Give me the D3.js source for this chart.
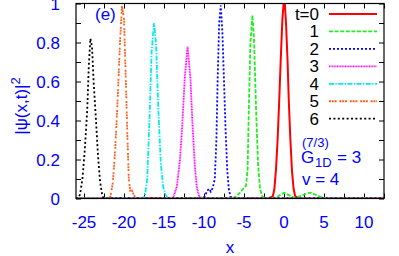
<!DOCTYPE html>
<html>
<head>
<meta charset="utf-8">
<script src="https://cdn.jsdelivr.net/npm/d3@7"></script>
<style>
  body { margin: 0; background: #fff; }
  svg { display: block; }
  text { font-family: "Liberation Sans", Arial, sans-serif; }
</style>
</head>
<body>
<svg width="399" height="256"></svg>
<script>
// values: [x, |psi|^2]
var t0 = [[-26,0],[-2,0],[-1.4,0.01],[-1.2,0.05],[-1.0,0.15],[-0.8,0.3],[-0.6,0.5],[-0.4,0.72],[-0.2,0.92],[-0.05,1.0],[0.1,1.0],[0.25,0.9],[0.45,0.7],[0.6,0.5],[0.8,0.3],[1.0,0.14],[1.2,0.05],[1.4,0.01],[2,0],[12.5,0]];
var t1 = [[-26,0],[-6.6,0],[-6.0,0.01],[-5.5,0.03],[-5.1,0.05],[-4.75,0.065],[-4.55,0.15],[-4.4,0.45],[-4.2,0.8],[-3.95,0.94],[-3.75,0.82],[-3.5,0.47],[-3.25,0.18],[-3.0,0.05],[-2.7,0.01],[-2.2,0],[-1.0,0.005],[-0.4,0.02],[0,0.03],[0.5,0.02],[1.2,0.005],[2.0,0.012],[2.8,0.025],[3.3,0.03],[3.9,0.02],[4.6,0.008],[5.5,0],[12.5,0]];
var t2 = [[-26,0],[-10.2,0],[-9.9,0.01],[-9.6,0.04],[-9.35,0.05],[-9.15,0.035],[-8.9,0.055],[-8.65,0.1],[-8.45,0.3],[-8.3,0.6],[-8.1,0.9],[-7.9,0.99],[-7.7,0.85],[-7.5,0.6],[-7.3,0.35],[-7.1,0.15],[-6.9,0.05],[-6.7,0.01],[-6.4,0],[12.5,0]];
var t3 = [[-26,0],[-14.2,0],[-13.8,0.01],[-13.4,0.06],[-13.0,0.2],[-12.7,0.39],[-12.4,0.62],[-12.05,0.78],[-11.7,0.62],[-11.45,0.39],[-11.15,0.17],[-10.9,0.06],[-10.6,0.01],[-10.2,0],[12.5,0]];
var t4 = [[-26,0],[-17.8,0],[-17.4,0.01],[-17.1,0.1],[-16.8,0.42],[-16.55,0.75],[-16.25,0.9],[-16.0,0.8],[-15.7,0.45],[-15.4,0.18],[-15.1,0.06],[-14.8,0.02],[-14.5,0],[12.5,0]];
var t5 = [[-26,0],[-22,0],[-21.7,0.01],[-21.4,0.08],[-21.1,0.25],[-20.8,0.5],[-20.5,0.8],[-20.25,0.99],[-20.0,0.92],[-19.8,0.65],[-19.6,0.35],[-19.4,0.1],[-19.2,0.03],[-19.0,0.04],[-18.8,0.02],[-18.5,0],[12.5,0]];
var t6 = [[-26,0],[-25.8,0],[-25.5,0.02],[-25.2,0.1],[-24.9,0.25],[-24.6,0.45],[-24.4,0.68],[-24.2,0.82],[-24.0,0.78],[-23.8,0.6],[-23.5,0.4],[-23.25,0.22],[-23.0,0.09],[-22.7,0.01],[-22.4,0],[12.5,0]];

var seriesNames = ["t=0", "1", "2", "3", "4", "5", "6"];
var seriesData = [t0, t1, t2, t3, t4, t5, t6];
var colors = ["#ff0000", "#22ee22", "#0000ff", "#ff00ff", "#00eeee", "#ff6020", "#000000"];
var dashes = [null, "4,1.6", "2,2", "1,0.6", "5,1.4,1.4,1.4", "2,0.8,2,0.8,2,2.8", "2,2.4"];

var xTickLabels = [-25, -20, -15, -10, -5, 0, 5, 10];
var yTickLabels = [0, 0.2, 0.4, 0.6, 0.8, 1];

var margin = {top: 3.5, right: 15, bottom: 57.5, left: 76};
var width = 399 - margin.left - margin.right;
var height = 256 - margin.top - margin.bottom;
var fs = 17;

var svg = d3.select("svg");

var x = d3.scaleLinear().domain([-26, 12.5]).range([0, width]);
var y = d3.scaleLinear().domain([0, 1]).range([height, 0]);

var g = svg.append("g")
    .attr("transform", "translate(" + margin.left + "," + margin.top + ")");

g.append("clipPath").attr("id", "clip")
  .append("rect").attr("width", width).attr("height", height);

// ticks on all four sides, pointing in
var xTicks = d3.range(-25, 12.6, 2.5);
var yTicks = d3.range(0, 1.01, 0.1);
function addTicks(axis, transform) {
    g.append("g").attr("transform", transform).call(axis)
        .call(function(s) { s.select(".domain").remove(); s.selectAll("text").remove(); })
        .selectAll("line").attr("stroke", "#000").attr("stroke-width", 1);
}
addTicks(d3.axisBottom(x).tickValues(xTicks).tickSize(-5), "translate(0," + height + ")");
addTicks(d3.axisTop(x).tickValues(xTicks).tickSize(-5), "translate(0,0)");
addTicks(d3.axisLeft(y).tickValues(yTicks).tickSize(-5), "translate(0,0)");
addTicks(d3.axisRight(y).tickValues(yTicks).tickSize(-5), "translate(" + width + ",0)");

var line = d3.line()
    .x(function(d) { return x(d[0]); })
    .y(function(d) { return y(d[1]); });

g.append("g").attr("clip-path", "url(#clip)")
  .selectAll("path")
  .data(seriesData)
  .enter().append("path")
    .attr("d", line)
    .attr("fill", "none")
    .attr("stroke", function(d, i) { return colors[i]; })
    .attr("stroke-width", function(d, i) { return i === 0 ? 2 : 1.8; })
    .attr("stroke-dasharray", function(d, i) { return dashes[i]; });

g.append("rect")
    .attr("width", width).attr("height", height)
    .attr("fill", "none").attr("stroke", "#000").attr("stroke-width", 1.2);

// tick labels
g.selectAll(".xl").data(xTickLabels).enter().append("text")
    .attr("x", function(d) { return x(d); })
    .attr("y", height + 29)
    .attr("text-anchor", "middle")
    .attr("fill", "#0000ff").attr("font-size", fs)
    .text(function(d) { return d; });

g.selectAll(".yl").data(yTickLabels).enter().append("text")
    .attr("x", -16)
    .attr("y", function(d) { return y(d) + 6; })
    .attr("text-anchor", "end")
    .attr("fill", "#0000ff").attr("font-size", fs)
    .text(function(d) { return d; });

// axis titles
svg.append("text")
    .attr("x", 230).attr("y", 253)
    .attr("text-anchor", "middle")
    .attr("fill", "#0000ff").attr("font-size", fs)
    .text("x");

var yl = svg.append("text")
    .attr("transform", "translate(27,106) rotate(-90)")
    .attr("text-anchor", "middle")
    .attr("fill", "#0000ff").attr("font-size", fs);
yl.append("tspan").text("|\u03c8(x,t)|");
yl.append("tspan").attr("dy", -7).attr("font-size", 13).text("2");

// panel label
svg.append("text")
    .attr("x", 95).attr("y", 20)
    .attr("fill", "#0000ff").attr("font-size", fs)
    .text("(e)");

// legend
var leg = svg.append("g");
seriesNames.forEach(function(name, i) {
    var ly = 14 + i * 17.45;
    leg.append("text")
        .attr("x", 319).attr("y", ly + 6)
        .attr("text-anchor", "end")
        .attr("fill", "#000").attr("font-size", fs)
        .text(name);
    leg.append("line")
        .attr("x1", 329).attr("x2", 377)
        .attr("y1", ly).attr("y2", ly)
        .attr("stroke", colors[i])
        .attr("stroke-width", i === 0 ? 2 : 1.8)
        .attr("stroke-dasharray", dashes[i]);
});

// parameters
var gt = svg.append("text").attr("x", 301).attr("y", 163)
    .attr("fill", "#0000ff").attr("font-size", fs);
gt.append("tspan").text("G");
gt.append("tspan").attr("x", 302).attr("dy", -16).attr("font-size", 13).text("(7/3)");
gt.append("tspan").attr("x", 315).attr("dy", 20).attr("font-size", 13).text("1D");
gt.append("tspan").attr("x", 337).attr("dy", -4).text("= 3");

svg.append("text").attr("x", 302).attr("y", 185)
    .attr("fill", "#0000ff").attr("font-size", fs)
    .text("v = 4");
</script>
</body>
</html>
